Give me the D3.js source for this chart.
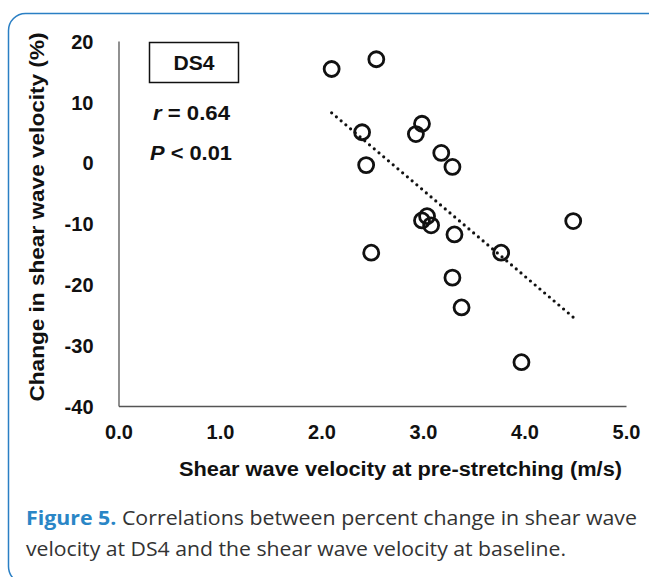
<!DOCTYPE html>
<html>
<head>
<meta charset="utf-8">
<script src="https://cdn.jsdelivr.net/npm/d3@7"></script>
<style>
  html, body { margin: 0; padding: 0; background: #fff; }
  svg { display: block; }
</style>
</head>
<body>
<div id="chart"></div>
<script>
// data
const baselineVelocity = [2.10, 2.54, 2.40, 2.44, 2.93, 2.99, 3.18, 3.29, 2.99, 3.04, 3.08, 3.31, 2.49, 3.77, 3.29, 3.38, 3.97, 4.48];
const changePercent    = [15.4, 17.0, 5.0, -0.4, 4.7, 6.4, 1.6, -0.7, -9.5, -8.8, -10.3, -11.8, -14.8, -14.8, -18.9, -23.8, -32.8, -9.6];
const trendX = [2.10, 4.48];
const trendY = [8.2, -25.4];
const xTicks = [0, 1, 2, 3, 4, 5];
const yTicks = [-40, -30, -20, -10, 0, 10, 20];

const width = 649, height = 577;
const svg = d3.select("#chart").append("svg")
  .attr("width", width).attr("height", height);

// outer rounded frame
svg.append("rect")
  .attr("x", 8.5).attr("y", 13.5)
  .attr("width", 700).attr("height", 570)
  .attr("rx", 17)
  .attr("fill", "none")
  .attr("stroke", "#2a7fc4")
  .attr("stroke-width", 1.5);

const x = d3.scaleLinear().domain([0, 5]).range([118.5, 626]);
const y = d3.scaleLinear().domain([-40, 20]).range([406, 41]);

const font = "'Liberation Sans', Arial, sans-serif";

// axes
const xAxis = svg.append("g")
  .attr("transform", `translate(0,${y(-40)})`)
  .call(d3.axisBottom(x).tickValues(xTicks).tickSize(0).tickPadding(19).tickFormat(d3.format(".1f")));
const yAxis = svg.append("g")
  .attr("transform", `translate(${x(0)},0)`)
  .call(d3.axisLeft(y).tickValues(yTicks).tickSize(0).tickPadding(25)
    .tickFormat(d => String(d)));   // plain hyphen like the original

[xAxis, yAxis].forEach(g => {
  g.select(".domain").attr("stroke", "#555").attr("stroke-width", 1.3);
  g.selectAll("text")
    .attr("font-family", font)
    .attr("font-weight", "bold")
    .attr("font-size", 20)
    .attr("fill", "#111");
});
yAxis.selectAll("text").attr("dy", "0.36em");

// axis titles
svg.append("text")
  .attr("x", 179).attr("y", 476)
  .attr("textLength", 443).attr("lengthAdjust", "spacingAndGlyphs")
  .attr("font-family", font).attr("font-weight", "bold").attr("font-size", 19.5)
  .attr("fill", "#111")
  .text("Shear wave velocity at pre-stretching (m/s)");

svg.append("text")
  .attr("transform", `translate(44,217) rotate(-90)`)
  .attr("x", -184.5)
  .attr("textLength", 369).attr("lengthAdjust", "spacingAndGlyphs")
  .attr("font-family", font).attr("font-weight", "bold").attr("font-size", 20)
  .attr("fill", "#111")
  .text("Change in shear wave velocity (%)");

// DS4 box and stats
svg.append("rect")
  .attr("x", 149.5).attr("y", 42.5)
  .attr("width", 89).attr("height", 40)
  .attr("fill", "none").attr("stroke", "#111").attr("stroke-width", 1.5);
svg.append("text")
  .attr("x", 173.5).attr("y", 70)
  .attr("textLength", 41).attr("lengthAdjust", "spacingAndGlyphs")
  .attr("font-family", font).attr("font-weight", "bold").attr("font-size", 20)
  .attr("fill", "#111")
  .text("DS4");

const r1 = svg.append("text")
  .attr("x", 153).attr("y", 120)
  .attr("textLength", 77).attr("lengthAdjust", "spacingAndGlyphs")
  .attr("font-family", font).attr("font-weight", "bold").attr("font-size", 20)
  .attr("fill", "#111");
r1.append("tspan").attr("font-style", "italic").text("r");
r1.append("tspan").text(" = 0.64");

const p1 = svg.append("text")
  .attr("x", 150).attr("y", 160)
  .attr("textLength", 82).attr("lengthAdjust", "spacingAndGlyphs")
  .attr("font-family", font).attr("font-weight", "bold").attr("font-size", 20)
  .attr("fill", "#111");
p1.append("tspan").attr("font-style", "italic").text("P");
p1.append("tspan").text(" < 0.01");

// trend line (dotted)
const line = d3.line().x(d => x(d[0])).y(d => y(d[1]));
svg.append("path")
  .datum(d3.zip(trendX, trendY))
  .attr("d", line)
  .attr("fill", "none")
  .attr("stroke", "#111")
  .attr("stroke-width", 3.2)
  .attr("stroke-linecap", "round")
  .attr("stroke-dasharray", "0 6.2");

// points
svg.append("g")
  .selectAll("circle")
  .data(d3.zip(baselineVelocity, changePercent))
  .join("circle")
  .attr("cx", d => x(d[0]))
  .attr("cy", d => y(d[1]))
  .attr("r", 7.5)
  .attr("fill", "none")
  .attr("stroke", "#111")
  .attr("stroke-width", 2.8);

// caption
const capFont = "'Open Sans', 'Noto Sans', sans-serif";
const cap1 = svg.append("text")
  .attr("x", 26).attr("y", 525)
  .attr("textLength", 611).attr("lengthAdjust", "spacingAndGlyphs")
  .attr("font-family", capFont)
  .attr("font-size", 20)
  .attr("fill", "#333");
cap1.append("tspan").attr("fill", "#2a86c6").attr("font-weight", "bold").text("Figure 5.");
cap1.append("tspan").text(" Correlations between percent change in shear wave");

svg.append("text")
  .attr("x", 26).attr("y", 556)
  .attr("textLength", 540).attr("lengthAdjust", "spacingAndGlyphs")
  .attr("font-family", capFont)
  .attr("font-size", 20)
  .attr("fill", "#333")
  .text("velocity at DS4 and the shear wave velocity at baseline.");
</script>
</body>
</html>
